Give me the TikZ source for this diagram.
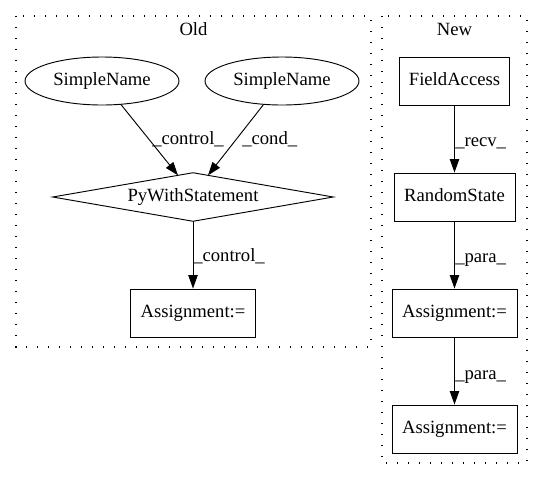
\documentclass[tikz,border=0pt]{standalone}
\usepackage{fontspec}
\setmainfont{Liberation Serif}
\usetikzlibrary{arrows.meta,calc,shapes.geometric}
\begin{document}
\begin{tikzpicture}[x=0.75pt,y=-0.75pt,
  every node/.style={font=\fontsize{14pt}{16pt}\selectfont, text height=10pt, text depth=3.5pt, inner sep=0pt},
  box/.style={draw, line width=0.7pt, minimum height=36pt},
  oval/.style={draw, ellipse, line width=0.7pt, minimum width=115.5pt, minimum height=36pt},
  arr/.style={-{Triangle[length=10pt,width=7pt]}, line width=0.7pt},
  cluster/.style={line width=1pt, dash pattern=on 1pt off 7.25pt},
  lbl/.style={anchor=west}
]
\useasboundingbox (0,0) rectangle (544,480);
% clusters
\draw[cluster] (16,16) rectangle (371,347);
\draw[cluster] (382,16) rectangle (527,463);
\node (old) at (193.5,31) {Old};
\node (new) at (454.5,31) {New};
% Old
\node[oval] (sn1) at (102,81) {SimpleName};
\node[oval] (sn2) at (282,81) {SimpleName};
\node[minimum width=210pt, minimum height=36pt] (pws) at (193,197) {PyWithStatement};
\draw[line width=0.7pt] (pws.west) -- (pws.north) -- (pws.east) -- (pws.south) -- cycle;
\node[box, minimum width=93.75pt] (oas) at (193,313) {Assignment:=};
\coordinate (t1) at ($(pws.north)+(-15,2.6)$);
\coordinate (t2) at ($(pws.north)+(15,2.6)$);
\draw[arr] (sn1) -- (t1);
\draw[arr] (sn2) -- (t2);
\draw[arr] (pws.south) -- (oas.north);
\node[lbl] (l1) at (152,140) {\_control\_};
\node[lbl] (l2) at (242,140) {\_cond\_};
\node[lbl] (l3) at (193,257) {\_control\_};
% New
\node[box, minimum width=82.5pt] (fa) at (454.5,81) {FieldAccess};
\node[box, minimum width=90.75pt] (rs) at (454.5,197) {RandomState};
\node[box, minimum width=93.75pt] (na1) at (454.5,313) {Assignment:=};
\node[box, minimum width=93.75pt] (na2) at (454.5,429) {Assignment:=};
\draw[arr] (fa) -- (rs);
\draw[arr] (rs) -- (na1);
\draw[arr] (na1) -- (na2);
\node[lbl] (l4) at (455,142) {\_recv\_};
\node[lbl] (l5) at (455,258) {\_para\_};
\node[lbl] (l6) at (455,375) {\_para\_};
\end{tikzpicture}
\end{document}
